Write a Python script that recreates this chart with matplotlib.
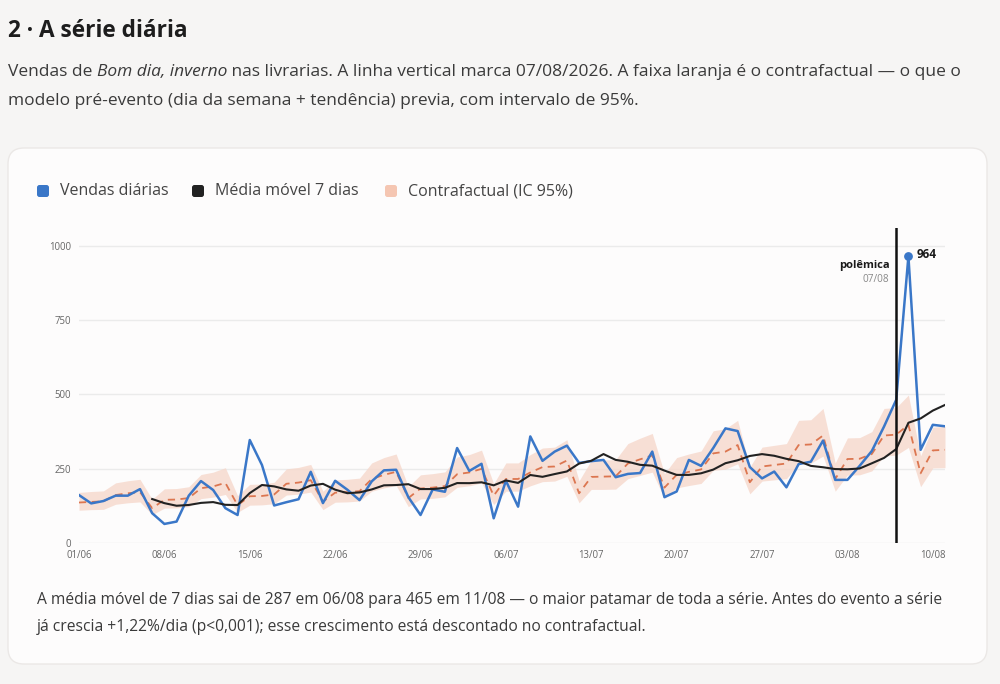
import matplotlib.pyplot as plt
import matplotlib.patches as patches
import numpy as np
import pandas as pd

# Daily sales, 01/06 .. 11/08 (72 days)
sales = [162, 134, 142, 160, 160, 182, 101, 65, 73, 160,
         209, 179, 118, 95, 347, 263, 127, 138, 148, 240,
         135, 210, 180, 145, 208, 245, 247, 155, 95, 181,
         173, 320, 243, 267, 84, 210, 123, 359, 277, 308,
         328, 270, 276, 280, 222, 233, 236, 308, 155, 174,
         280, 260, 320, 386, 377, 256, 218, 241, 188, 266,
         274, 345, 213, 213, 260, 310, 392, 482, 964, 314,
         398, 393]

# Counterfactual (pre-event model) and its 95% band
counterfactual = [137, 139, 141, 162, 168, 172, 118, 146, 147, 152,
                  185, 191, 203, 128, 158, 159, 164, 200, 204, 212,
                  140, 170, 172, 175, 216, 230, 240, 152, 184, 187,
                  192, 232, 238, 250, 160, 216, 216, 238, 256, 258,
                  278, 168, 223, 224, 225, 268, 282, 295, 187, 230,
                  240, 248, 302, 308, 330, 205, 258, 263, 268, 330,
                  332, 362, 216, 283, 284, 300, 362, 365, 398, 235,
                  312, 314]
ci_low = [111, 113, 114, 131, 136, 139, 96, 118, 119, 123,
          150, 155, 164, 104, 128, 129, 133, 162, 165, 172,
          113, 138, 139, 142, 175, 186, 194, 123, 149, 151,
          156, 188, 193, 203, 130, 175, 175, 193, 207, 209,
          225, 136, 181, 181, 182, 217, 228, 239, 151, 186,
          194, 201, 245, 249, 267, 166, 209, 213, 217, 267,
          269, 293, 175, 229, 230, 243, 293, 296, 322, 190,
          253, 254]
ci_high = [171, 174, 176, 203, 210, 215, 148, 183, 184, 190,
           231, 239, 254, 160, 198, 199, 205, 250, 255, 265,
           175, 213, 215, 219, 270, 288, 300, 190, 230, 234,
           240, 290, 298, 313, 200, 270, 270, 298, 320, 323,
           348, 210, 279, 280, 281, 335, 353, 369, 234, 288,
           300, 310, 378, 385, 413, 256, 323, 329, 335, 413,
           415, 453, 270, 354, 355, 375, 453, 456, 498, 294,
           390, 393]

dates = pd.date_range('2026-06-01', periods=len(sales), freq='D')
tick_labels = ['01/06', '08/06', '15/06', '22/06', '29/06', '06/07',
               '13/07', '20/07', '27/07', '03/08', '10/08']
y_ticks = [0, 250, 500, 750, 1000]
event_date = '2026-08-07'

BLUE = '#3a77c8'
BLACK = '#222222'
ORANGE = '#dc7650'
BAND = '#f6d6c9'

plt.rcParams['font.family'] = ['Open Sans', 'DejaVu Sans']

fig = plt.figure(figsize=(10, 6.84), dpi=100)
fig.patch.set_facecolor('#f6f5f4')

# background axes in pixel units (origin top-left)
bg = fig.add_axes([0, 0, 1, 1])
bg.set_xlim(0, 1000)
bg.set_ylim(684, 0)
bg.axis('off')
bg.set_zorder(-1)

card = patches.FancyBboxPatch((8, 148), 979, 516,
                              boxstyle='round,pad=0,rounding_size=16',
                              facecolor='#fdfcfc', edgecolor='#ebe8e6', lw=1)
bg.add_patch(card)

bg.text(8, 31, '2 · A série diária', fontsize=16.3, fontweight='bold',
        color='#1d1d1d', va='center', ha='left')

# subtitle with italic book title
fig.canvas.draw()
renderer = fig.canvas.get_renderer()
sub_color = '#3a3a3a'
sub_size = 12.55
x0 = 8
parts = [('Vendas de ', 'normal'), ('Bom dia, inverno', 'italic'),
         (' nas livrarias. A linha vertical marca 07/08/2026. A faixa laranja é o contrafactual — o que o', 'normal')]
x = x0
for txt, style in parts:
    t = bg.text(x, 72, txt, fontsize=sub_size, style=style, color=sub_color,
                va='center', ha='left')
    bb = t.get_window_extent(renderer=renderer)
    x += bb.width
bg.text(x0, 101, 'modelo pré-evento (dia da semana + tendência) previa, com intervalo de 95%.',
        fontsize=sub_size, color=sub_color, va='center', ha='left')

# legend
legend_items = [(37, 'Vendas diárias', BLUE), (192, 'Média móvel 7 dias', BLACK),
                (385, 'Contrafactual (IC 95%)', '#f5c6b2')]
for lx, label, col in legend_items:
    bg.add_patch(patches.FancyBboxPatch((lx, 185), 12, 12,
                                        boxstyle='round,pad=0,rounding_size=2.5',
                                        facecolor=col, edgecolor='none'))
    bg.text(lx + 23, 191, label, fontsize=11.5, color='#444444', va='center', ha='left')

# footer
foot_color = '#3a3a3a'
bg.text(37, 600, 'A média móvel de 7 dias sai de 287 em 06/08 para 465 em 11/08 — o maior patamar de toda a série. Antes do evento a série',
        fontsize=11.22, color=foot_color, va='center', ha='left')
bg.text(37, 627, 'já crescia +1,22%/dia (p<0,001); esse crescimento está descontado no contrafactual.',
        fontsize=11.22, color=foot_color, va='center', ha='left')

# main chart
ax = fig.add_axes([0.079, 140.7 / 684, 0.866, (543.3 - 228) / 684])
ax.set_facecolor('none')

df = pd.DataFrame({'sales': sales, 'cf': counterfactual,
                   'lo': ci_low, 'hi': ci_high}, index=dates)
df['ma7'] = df['sales'].rolling(7).mean()
xi = np.arange(len(df))

for yv in y_ticks:
    ax.axhline(yv, color='#ebebeb', lw=1, zorder=0)

ax.fill_between(xi, df['lo'], df['hi'], color=BAND, alpha=0.75, lw=0, zorder=1)
ax.plot(xi, df['cf'], color=ORANGE, lw=1.3, ls=(0, (4, 3)), zorder=2)
ax.plot(xi, df['sales'], color=BLUE, lw=1.8, zorder=3)
ax.plot(xi, df['ma7'], color=BLACK, lw=1.5, zorder=4)

ev = df.index.get_loc(pd.Timestamp(event_date))
ax.axvline(ev, color='#111111', lw=1.8, zorder=5)
ax.text(ev - 0.55, 932, 'polêmica', fontsize=8, fontweight='bold',
        color='#1a1a1a', ha='right', va='center')
ax.text(ev - 0.55, 885, df.index[ev].strftime('%d/%m'), fontsize=7.2,
        color='#888888', ha='right', va='center')

peak = int(np.argmax(df['sales'].values))
ax.scatter([peak], [df['sales'].iloc[peak]], s=28, color=BLUE, zorder=6)
ax.text(peak + 0.7, df['sales'].iloc[peak] + 5, str(int(df['sales'].iloc[peak])),
        fontsize=8.5, fontweight='bold', color='#1a1a1a', ha='left', va='center')

ax.set_xlim(0, len(df) - 1)
ax.set_ylim(0, 1059)
ax.set_yticks(y_ticks)
ax.set_yticklabels([str(v) for v in y_ticks])
ax.set_xticks(np.arange(0, len(df), 7))
ax.set_xticklabels(tick_labels)
ax.tick_params(axis='both', length=0, labelsize=6.9, labelcolor='#666666')
ax.tick_params(axis='y', pad=6)
ax.tick_params(axis='x', pad=5)
for s in ax.spines.values():
    s.set_visible(False)

fig.savefig('out.png', dpi=100, facecolor=fig.get_facecolor())
